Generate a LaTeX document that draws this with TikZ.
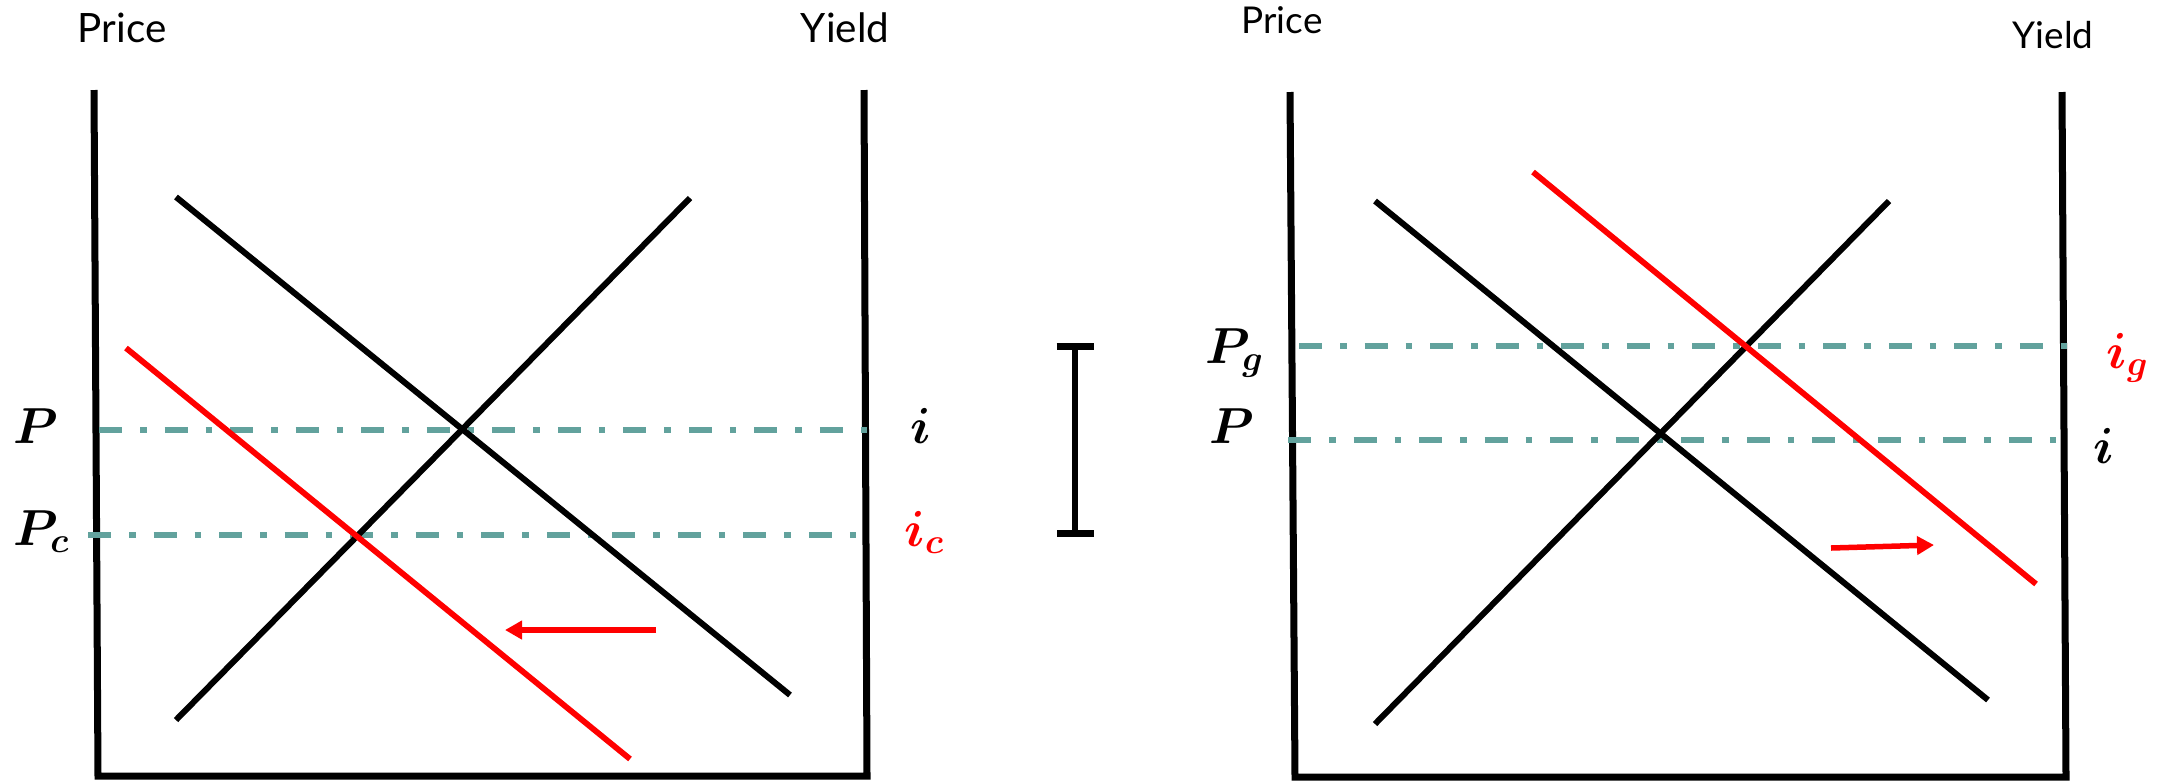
\documentclass[tikz,border=0pt]{standalone}
\usepackage{amsmath,amssymb}
\usepackage{fontspec}
\setsansfont{Lato}
\usetikzlibrary{arrows.meta}
\definecolor{tealdash}{RGB}{98,162,157}
\definecolor{shiftred}{RGB}{255,0,0}

\begin{document}
\begin{tikzpicture}[
    x=0.01cm, y=-0.01cm,
    axis/.style={line width=0.07cm, draw=black, line join=miter},
    curve/.style={line width=0.06cm, draw=black},
    shifted/.style={line width=0.058cm, draw=shiftred},
    level/.style={line width=0.06cm, draw=tealdash,
                  dash pattern=on 0.23cm off 0.18cm on 0.065cm off 0.18cm},
    move/.style={-{Triangle[length=0.17cm, width=0.18cm]}, line width=0.055cm, draw=shiftred},
    gap/.style={{Bar[width=0.37cm]}-{Bar[width=0.37cm]}, line width=0.066cm},
    ttl/.style={font=\sffamily\fontsize{11.5}{13}\selectfont, anchor=base, inner sep=0pt},
    ttlsmall/.style={ttl, font=\sffamily\fontsize{10.5}{12}\selectfont},
    sym/.style={font=\fontsize{14}{16}\selectfont\boldmath, anchor=base west, inner sep=0pt},
  ]
  \useasboundingbox (0,0) rectangle (2170,781);
  % Left panel
    \node[ttl] (priceL) at (122,42) {Price};
    \node[ttl] (yieldL) at (845,42) {Yield};
    \draw[axis] (94,90) -- (98,776) -- (867,776) -- (864,90);
    \draw[level] (99,430) -- (870,430);
    \draw[level] (88,535) -- (864,535);
    \draw[curve] (176,197) -- (790,695);
    \draw[curve] (176,720) -- (690,198);
    \draw[shifted] (126,348) -- (630,759);
    \draw[move] (656,630) -- (505,630);
    \node[sym] (pL)  at (13,443)  {$P$};
    \node[sym] (pcL) at (13,545)  {$P_c$};
    \node[sym] (iL)  at (910,443) {$i$};
    \node[sym, text=shiftred] (icL) at (904,546) {$i_c$};
  % Bar between panels
    \draw[gap] (1075,343) -- (1075,537);
  % Right panel
    \node[ttlsmall] (priceR) at (1282,33) {Price};
    \node[ttlsmall] (yieldR) at (2053,48) {Yield};
    \draw[axis] (1290,92) -- (1295,777) -- (2066,777) -- (2062,92);
    \draw[level] (1299,346) -- (2072,346);
    \draw[level] (1288,440) -- (2059,440);
    \draw[curve] (1375,201) -- (1988,700);
    \draw[curve] (1375,724) -- (1889,201);
    \draw[shifted] (1533,172) -- (2036,584);
    \draw[move] (1831,548) -- (1934,545);
    \node[sym] (pgR) at (1205,363) {$P_g$};
    \node[sym] (pR)  at (1209,443) {$P$};
    \node[sym, text=shiftred] (igR) at (2106,368) {$i_g$};
    \node[sym] (iR)  at (2093,463) {$i$};
\end{tikzpicture}
\end{document}
